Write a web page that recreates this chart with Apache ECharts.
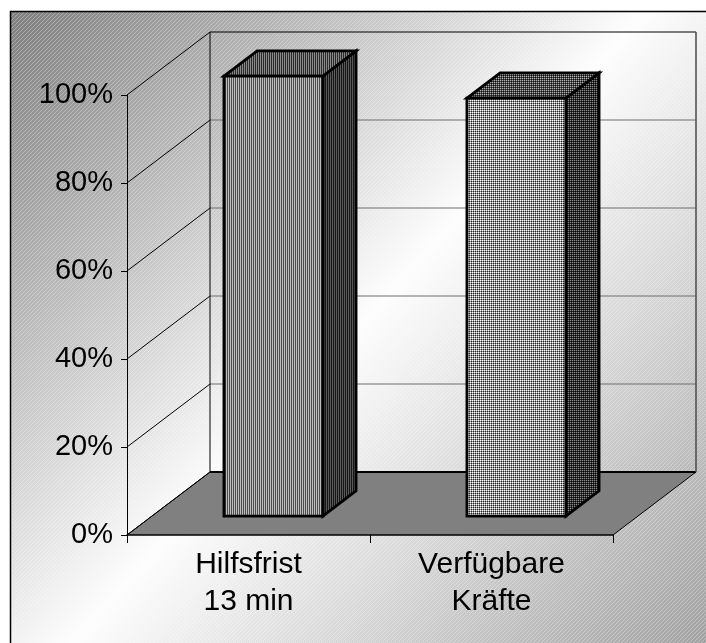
<!DOCTYPE html>
<html>
<head>
<meta charset="utf-8">
<script src="https://cdn.jsdelivr.net/npm/echarts@6/dist/echarts.min.js"></script>
<style>
  html, body { margin: 0; padding: 0; background: #fff; }
  #chart { width: 706px; height: 643px; }
</style>
</head>
<body>
<div id="chart"></div>
<script>
// Chart data
const categories = ['Hilfsfrist\n13 min', 'Verfügbare\nKräfte'];
const shares = [100, 95];
const yTicks = [0, 20, 40, 60, 80, 100];

// 3D projection: offset from the front plane to the back wall (pixels)
const DEPTH = [83, -63];
const BAR_NEAR = 0.3;
const BAR_FAR = 0.7;
const BAR_WIDTH_RATIO = 0.407;
const FONT = '"Liberation Sans", Arial, sans-serif';

// Small repeating pixel tile used as a fill pattern
function tile(w, h, colors) {
  const c = document.createElement('canvas');
  c.width = w; c.height = h;
  const ctx = c.getContext('2d');
  for (let y = 0; y < h; y++) {
    for (let x = 0; x < w; x++) {
      ctx.fillStyle = colors[y * w + x];
      ctx.fillRect(x, y, 1, 1);
    }
  }
  return { image: c, repeat: 'repeat' };
}

const barFills = [
  { // vertical stripes
    front: tile(2, 1, ['#bdbdbd', '#4e4e4e']),
    top: tile(2, 1, ['#8a8a8a', '#2a2a2a']),
    side: tile(2, 1, ['#5a5a5a', '#151515'])
  },
  { // fine grid
    front: tile(2, 2, ['#ffffff', '#9a9a9a', '#9a9a9a', '#202020']),
    top: tile(2, 2, ['#b0b0b0', '#4a4a4a', '#4a4a4a', '#0e0e0e']),
    side: tile(2, 2, ['#8a8a8a', '#303030', '#303030', '#000000'])
  }
];

// Chart-area background: diagonal grey-white-grey gradient with fine hatching
function backgroundCanvas(w, h) {
  const c = document.createElement('canvas');
  c.width = w; c.height = h;
  const ctx = c.getContext('2d');
  const g = ctx.createLinearGradient(10, 11, w, h);
  g.addColorStop(0, '#7e7e7e');
  g.addColorStop(0.5, '#fdfdfd');
  g.addColorStop(1, '#a2a2a2');
  ctx.fillStyle = g;
  ctx.fillRect(10, 11, w - 10, h - 11);
  ctx.save();
  ctx.beginPath();
  ctx.rect(10, 11, w - 10, h - 11);
  ctx.clip();
  ctx.strokeStyle = 'rgba(255,255,255,0.3)';
  ctx.lineWidth = 1;
  for (let k = 0; k < w + h; k += 4) {
    ctx.beginPath();
    ctx.moveTo(k, 0);
    ctx.lineTo(k - h, h);
    ctx.stroke();
  }
  ctx.restore();
  return c;
}

const chart = echarts.init(document.getElementById('chart'), null, { renderer: 'canvas' });

function renderWalls(params, api) {
  const cs = params.coordSys;
  const x0 = cs.x, x1 = cs.x + cs.width;
  const [dx, dy] = DEPTH;
  const yOf = t => api.coord([0, t])[1];
  const y0 = yOf(0), yMax = yOf(yTicks[yTicks.length - 1]);
  const children = [];
  // floor
  children.push({
    type: 'polygon',
    shape: { points: [[x0, y0], [x1, y0], [x1 + dx, y0 + dy], [x0 + dx, y0 + dy]] },
    style: { fill: '#808080', stroke: null }
  });
  children.push({ type: 'line', shape: { x1: x0, y1: y0, x2: x0 + dx, y2: y0 + dy }, style: { stroke: '#000', lineWidth: 1 } });
  children.push({ type: 'line', shape: { x1: x1, y1: y0, x2: x1 + dx, y2: y0 + dy }, style: { stroke: '#000', lineWidth: 1 } });
  children.push({ type: 'line', shape: { x1: x0 + dx, y1: y0 + dy, x2: x1 + dx, y2: y0 + dy }, style: { stroke: '#000', lineWidth: 2 } });
  // back wall gridlines and side-wall diagonals
  yTicks.forEach(t => {
    const y = yOf(t);
    if (t !== 0) {
      children.push({
        type: 'line',
        shape: { x1: x0 + dx, y1: y + dy, x2: x1 + dx, y2: y + dy },
        style: { stroke: t === yTicks[yTicks.length - 1] ? '#000' : '#6e6e6e', lineWidth: 1 }
      });
    }
    children.push({
      type: 'line',
      shape: { x1: x0, y1: y, x2: x0 + dx, y2: y + dy },
      style: { stroke: '#000', lineWidth: 1 }
    });
  });
  // back wall vertical edges
  children.push({ type: 'line', shape: { x1: x0 + dx, y1: yMax + dy, x2: x0 + dx, y2: y0 + dy }, style: { stroke: '#000', lineWidth: 1 } });
  children.push({ type: 'line', shape: { x1: x1 + dx, y1: yMax + dy, x2: x1 + dx, y2: y0 + dy }, style: { stroke: '#4a4a4a', lineWidth: 1.5 } });
  return { type: 'group', children };
}

function renderBar(params, api) {
  const i = api.value(0), v = api.value(1);
  const base = api.coord([i, 0]);
  const top = api.coord([i, v]);
  const w = api.size([1, 0])[0] * BAR_WIDTH_RATIO;
  const nx = base[0] - w / 2 + BAR_NEAR * DEPTH[0];
  const yb = base[1] + BAR_NEAR * DEPTH[1];
  const yt = top[1] + BAR_NEAR * DEPTH[1];
  const dx = (BAR_FAR - BAR_NEAR) * DEPTH[0];
  const dy = (BAR_FAR - BAR_NEAR) * DEPTH[1];
  const fills = barFills[i % barFills.length];
  const edge = { stroke: '#000', lineWidth: 2.8, lineJoin: 'miter' };
  return {
    type: 'group',
    children: [
      {
        type: 'polygon',
        shape: { points: [[nx + w, yt], [nx + w + dx, yt + dy], [nx + w + dx, yb + dy], [nx + w, yb]] },
        style: Object.assign({ fill: fills.side }, edge)
      },
      {
        type: 'polygon',
        shape: { points: [[nx, yt], [nx + dx, yt + dy], [nx + w + dx, yt + dy], [nx + w, yt]] },
        style: Object.assign({ fill: fills.top }, edge)
      },
      {
        type: 'rect',
        shape: { x: nx, y: yt, width: w, height: yb - yt },
        style: Object.assign({ fill: fills.front }, edge)
      }
    ]
  };
}

chart.setOption({
  animation: false,
  backgroundColor: '#ffffff',
  graphic: {
    elements: [
      {
        type: 'image',
        z: -100,
        silent: true,
        style: { image: backgroundCanvas(706, 643), x: 0, y: 0, width: 706, height: 643 }
      },
      {
        type: 'rect',
        z: -99,
        silent: true,
        shape: { x: 10.5, y: 11.5, width: 760, height: 700 },
        style: { fill: null, stroke: '#000', lineWidth: 1.5 }
      }
    ]
  },
  grid: { left: 127, right: 93, top: 95, bottom: 108, containLabel: false },
  xAxis: {
    type: 'category',
    data: categories,
    boundaryGap: true,
    axisLine: { show: true, lineStyle: { color: '#000', width: 1.5 } },
    axisTick: { show: true, length: 8, lineStyle: { color: '#000', width: 1 } },
    axisLabel: {
      color: '#000', fontFamily: FONT, fontSize: 30, lineHeight: 37, margin: 11
    },
    splitLine: { show: false },
    z: 5
  },
  yAxis: {
    type: 'value',
    min: 0,
    max: 100,
    interval: 20,
    axisLine: { show: true, lineStyle: { color: '#000', width: 1 } },
    axisTick: { show: true, length: 6, lineStyle: { color: '#000', width: 1 } },
    axisLabel: {
      color: '#000', fontFamily: FONT, fontSize: 29, margin: 14,
      formatter: '{value}%'
    },
    splitLine: { show: false },
    z: 5
  },
  series: [
    {
      type: 'custom',
      name: 'walls',
      clip: false,
      silent: true,
      data: [[0, 0]],
      renderItem: renderWalls
    },
    {
      type: 'custom',
      name: 'bars',
      clip: false,
      data: shares.map((v, i) => [i, v]),
      encode: { x: 0, y: 1 },
      renderItem: renderBar
    }
  ]
});
</script>
</body>
</html>
